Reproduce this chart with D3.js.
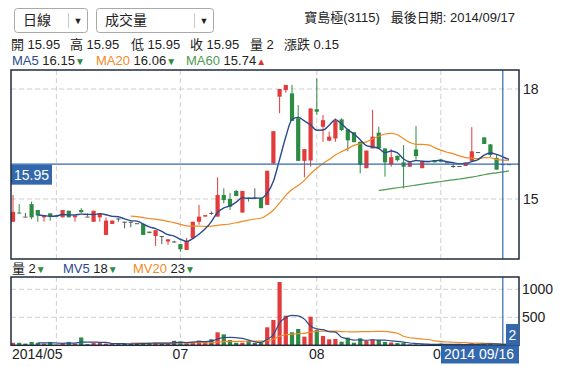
<!DOCTYPE html>
<html><head><meta charset="utf-8">
<script src="https://cdn.jsdelivr.net/npm/d3@7"></script>
<style>body{margin:0;background:#fff;}svg{display:block;font-family:"Liberation Sans","Noto Sans CJK TC",Arial,sans-serif;}</style>
</head><body><svg id="c" width="569" height="366"></svg>
<script>
const stockName = "寶島極(3115)";
const lastDate = "2014/09/17";
const year = "2014";
const dates = ["05/22","05/23","05/26","05/27","05/28","05/29","05/30",
"06/03","06/04","06/05","06/06","06/09","06/10","06/11","06/12","06/13","06/16","06/17","06/18","06/19","06/20","06/23","06/24","06/25","06/26","06/27","06/30",
"07/01","07/02","07/03","07/04","07/07","07/08","07/09","07/10","07/11","07/14","07/15","07/16","07/17","07/18","07/21","07/22","07/24","07/25","07/28","07/29","07/30","07/31",
"08/01","08/04","08/05","08/06","08/07","08/08","08/11","08/12","08/13","08/14","08/15","08/18","08/19","08/20","08/21","08/22","08/25","08/26","08/27","08/28",
"09/01","09/02","09/03","09/04","09/05","09/09","09/10","09/11","09/12","09/15","09/16","09/17"];
const opens = [14.38,14.63,14.52,14.86,14.70,14.50,14.61,14.55,14.50,14.68,14.50,14.70,14.52,14.38,14.50,14.02,14.32,14.47,14.38,14.38,14.34,14.32,14.11,13.99,13.99,13.84,13.84,13.77,13.61,13.93,14.38,14.52,14.62,14.52,15.11,15.00,15.22,14.63,15.04,15.03,15.02,14.84,15.97,17.79,17.97,17.88,17.20,16.04,16.05,17.45,16.97,16.59,16.65,17.17,16.90,16.82,16.56,15.84,16.38,16.81,16.38,15.95,16.18,16.00,15.88,16.35,15.84,16.03,16.06,16.08,16.00,15.90,15.90,15.90,16.04,16.28,16.68,16.49,16.12,15.95,15.95];
const highs = [15.11,14.86,14.62,14.93,14.70,14.56,14.61,14.55,14.70,14.68,14.55,14.75,14.61,14.68,14.61,14.49,14.41,14.47,14.38,14.38,14.34,14.32,14.11,14.15,13.99,13.90,13.86,13.77,13.94,14.38,14.84,14.56,14.66,15.59,15.29,15.16,15.25,15.22,15.04,15.29,15.02,15.77,16.85,18.00,18.11,18.11,17.56,16.36,17.47,18.29,17.29,16.84,17.20,17.20,16.90,16.82,16.56,16.32,17.43,16.97,16.38,16.36,16.18,16.47,16.00,16.99,16.04,16.03,16.06,16.08,16.00,15.95,15.90,16.00,16.96,16.28,16.68,16.50,16.20,15.95,15.95];
const lows = [14.38,14.61,14.52,14.45,14.38,14.38,14.41,14.55,14.50,14.50,14.38,14.61,14.52,14.38,14.38,14.02,14.32,14.38,14.20,14.23,14.34,14.02,14.07,13.72,13.77,13.75,13.82,13.56,13.61,13.93,14.30,14.52,14.57,14.52,14.88,14.70,15.08,14.63,14.93,15.03,14.75,14.84,15.95,17.34,17.90,17.13,16.04,15.59,15.88,17.30,16.56,16.59,16.56,16.85,16.30,16.55,15.70,15.84,16.38,16.38,15.61,15.88,16.02,15.29,15.88,16.08,15.84,16.02,16.00,16.02,16.00,15.85,15.90,15.90,16.04,16.28,16.50,16.14,15.80,15.95,15.95];
const closes = [14.65,14.61,14.52,14.50,14.55,14.56,14.52,14.55,14.70,14.50,14.55,14.64,14.52,14.68,14.61,14.41,14.41,14.47,14.38,14.38,14.34,14.02,14.07,14.15,13.99,13.90,13.84,13.63,13.84,14.38,14.52,14.56,14.62,15.11,14.97,14.79,15.08,15.22,15.02,15.03,14.75,15.77,16.85,18.00,18.11,17.13,16.04,16.36,17.47,17.38,17.15,16.70,17.13,16.88,16.60,16.55,15.93,16.32,16.70,16.38,16.00,16.14,16.06,15.88,16.00,16.17,16.04,16.02,16.00,16.02,16.00,15.90,15.90,16.00,16.30,16.28,16.50,16.20,15.80,15.95,15.95];
const volumes = [45,45,30,60,45,30,60,10,40,60,30,140,20,40,40,30,30,20,25,25,40,45,40,45,30,30,80,70,40,60,85,77,107,232,196,95,46,46,82,40,46,321,452,1130,529,232,291,154,511,273,166,107,113,64,136,46,125,82,107,95,60,50,40,40,15,15,15,15,15,30,10,10,10,10,40,20,30,25,13,2,3];
const priceTicks = [15, 18];
const volTicks = [500, 1000];
const cursorIndex = 79;

const RED = "#e23b3b", GREEN = "#2e8b43", NEUT = "#555";
const C_MA5 = "#294b8c", C_MA20 = "#f08a24", C_MA60 = "#4f9a50", BLUE = "#3468ae";

function ma(arr, n){ return arr.map((d,i)=> i < n-1 ? null : d3.mean(arr.slice(i-n+1, i+1))); }
const ma5 = ma(closes,5), ma20 = ma(closes,20), ma60 = ma(closes,60);
const mv5 = ma(volumes,5), mv20 = ma(volumes,20);

const svg = d3.select("#c");
const L = 11, R = 519, mTop = 70, mBot = 259, vTop = 277, vBot = 345.3;
const idx = d3.range(dates.length);
const x = d3.scalePoint().domain(idx).range([13, 509]);
const y = d3.scaleLinear().domain(priceTicks).range([199, 89]);
const yv = d3.scaleLinear().domain([0, 1000]).range([vBot, 289.3]);
const bw = 4.2;
const colorOf = i => closes[i] > opens[i] ? RED : (closes[i] < opens[i] ? GREEN : NEUT);

// header controls
function dropdown(x0, w, sep, label){
  const g = svg.append("g");
  g.append("rect").attr("x",x0+0.5).attr("y",8.5).attr("width",w).attr("height",24).attr("rx",3)
    .attr("fill","#fff").attr("stroke","#a9a9a9");
  g.append("line").attr("x1",x0+sep+0.5).attr("x2",x0+sep+0.5).attr("y1",13).attr("y2",28).attr("stroke","#c8c8c8");
  g.append("text").attr("x",x0+9).attr("y",25).attr("font-size",14).attr("fill","#222").text(label);
  g.append("text").attr("x",x0+sep+10).attr("y",24).attr("font-size",9).attr("text-anchor","middle").attr("fill","#222").text("▼");
}
dropdown(14, 73, 54, "日線");
dropdown(96, 117, 98, "成交量");
svg.append("text").attr("x",515).attr("y",22).attr("text-anchor","end").attr("font-size",13).attr("fill","#222")
  .text(stockName + "\u00a0\u00a0 最後日期: " + lastDate);

const ci = cursorIndex;
const chg = closes[ci] - closes[ci-1];
const info = [["開 ", opens[ci].toFixed(2), 11],["高 ", highs[ci].toFixed(2), 70],["低 ", lows[ci].toFixed(2), 131],
  ["收 ", closes[ci].toFixed(2), 190],["量 ", String(volumes[ci]), 250],["漲跌 ", chg.toFixed(2), 284]];
info.forEach(d=>{
  svg.append("text").attr("x",d[2]).attr("y",49).attr("font-size",13).attr("fill","#222").text(d[0]+d[1]);
});
function legendItem(xp, yp, label, col, val, up){
  const t = svg.append("text").attr("x",xp).attr("y",yp).attr("font-size",13);
  t.append("tspan").attr("fill",col).text(label+" ");
  t.append("tspan").attr("fill","#222").text(val);
  t.append("tspan").attr("fill", up ? "#e0302e" : GREEN).attr("font-size",10).text(up ? "▲" : "▼");
}
const trend = (a)=> a[ci] >= a[ci-1];
legendItem(12, 65, "MA5", C_MA5, ma5[ci].toFixed(2), trend(ma5));
legendItem(96, 65, "MA20", C_MA20, ma20[ci].toFixed(2), trend(ma20));
legendItem(186, 65, "MA60", C_MA60, ma60[ci].toFixed(2), trend(ma60));

// month boundaries
const monthStarts = idx.filter(i => i > 0 && dates[i].slice(0,2) !== dates[i-1].slice(0,2));

// panels grid
function grid(top, bot, yscale, ticks){
  ticks.forEach(t=>{
    svg.append("line").attr("x1",L).attr("x2",R).attr("y1",yscale(t)).attr("y2",yscale(t))
      .attr("stroke","#cfcfcf").attr("stroke-dasharray","5,3");
  });
  monthStarts.forEach(i=>{
    svg.append("line").attr("x1",x(i)).attr("x2",x(i)).attr("y1",top).attr("y2",bot)
      .attr("stroke","#cfcfcf").attr("stroke-dasharray","5,3");
  });
}
grid(mTop, mBot, y, priceTicks);
grid(vTop, vBot, yv, volTicks);

// candles
const cg = svg.append("g");
idx.forEach(i=>{
  const col = colorOf(i);
  cg.append("line").attr("x1",x(i)).attr("x2",x(i)).attr("y1",y(highs[i])).attr("y2",y(lows[i])).attr("stroke",col).attr("stroke-width",1);
  const t = y(Math.max(opens[i],closes[i])), b = y(Math.min(opens[i],closes[i]));
  cg.append("rect").attr("x",x(i)-bw/2).attr("y",t).attr("width",bw).attr("height",Math.max(1,b-t)).attr("fill",col);
});
// MA lines
function maLine(arr, col, w, ys){
  const ln = d3.line().defined(i=>arr[i]!==null).x(i=>x(i)).y(i=>ys(arr[i])).curve(d3.curveMonotoneX);
  svg.append("path").attr("d",ln(idx)).attr("fill","none").attr("stroke",col).attr("stroke-width",w);
}
maLine(ma20, C_MA20, 1.2, y);
maLine(ma60, C_MA60, 1.2, y);
maLine(ma5, C_MA5, 1.4, y);

// current price line & label
svg.append("line").attr("x1",L).attr("x2",R).attr("y1",y(closes[ci])).attr("y2",y(closes[ci])).attr("stroke",BLUE).attr("stroke-width",1.2);
svg.append("rect").attr("x",L).attr("y",y(closes[ci])+0.5).attr("width",41).attr("height",20).attr("fill",BLUE);
svg.append("text").attr("x",L+3).attr("y",y(closes[ci])+16).attr("font-size",14).attr("fill","#fff").text(closes[ci].toFixed(2));

// volume bars
idx.forEach(i=>{
  svg.append("rect").attr("x",x(i)-bw/2).attr("y",yv(volumes[i])).attr("width",bw).attr("height",Math.max(0,vBot-yv(volumes[i]))).attr("fill",colorOf(i));
});
maLine(mv20, C_MA20, 1.2, yv);
maLine(mv5, C_MA5, 1.2, yv);

// cursor
[[mTop,mBot],[vTop,vBot]].forEach(p=>{
  svg.append("line").attr("x1",x(ci)).attr("x2",x(ci)).attr("y1",p[0]).attr("y2",p[1]).attr("stroke",BLUE).attr("stroke-width",1.2);
});

// borders
[[mTop,mBot],[vTop,vBot]].forEach(p=>{
  svg.append("rect").attr("x",L).attr("y",p[0]).attr("width",R-L).attr("height",p[1]-p[0]).attr("fill","none").attr("stroke","#1f2d3d").attr("stroke-width",1.5);
});

// y labels
priceTicks.forEach(t=> svg.append("text").attr("x",523).attr("y",y(t)+5).attr("font-size",14).attr("fill","#222").text(t));
volTicks.forEach(t=> svg.append("text").attr("x",522).attr("y",yv(t)+5).attr("font-size",14).attr("fill","#222").text(t));

// volume legend
const vt = svg.append("text").attr("x",12).attr("y",273).attr("font-size",13);
vt.append("tspan").attr("fill","#222").text("量 " + volumes[ci]);
vt.append("tspan").attr("fill",GREEN).attr("font-size",10).text(volumes[ci]>=volumes[ci-1]?"▲":"▼");
legendItem(63, 273, "MV5", C_MA5, Math.round(mv5[ci]), trend(mv5));
legendItem(133, 273, "MV20", C_MA20, Math.round(mv20[ci]), trend(mv20));

// x labels (the cursor date box hides the part right of it)
const boxX = 441;
svg.append("defs").append("clipPath").attr("id","xclip").append("rect").attr("x",0).attr("y",340).attr("width",boxX).attr("height",26);
const xl = svg.append("g").attr("clip-path","url(#xclip)");
xl.append("text").attr("x",12).attr("y",359).attr("font-size",14).attr("fill","#222").text(year + "/" + dates[0].slice(0,2));
monthStarts.forEach(i=>{
  if (x(i) - 12 < 60) return;
  xl.append("text").attr("x",x(i)).attr("y",359).attr("text-anchor","middle").attr("font-size",14).attr("fill","#222").text(dates[i].slice(0,2));
});
// cursor date box
svg.append("rect").attr("x",boxX).attr("y",345.5).attr("width",R-boxX).attr("height",18).attr("fill",BLUE);
svg.append("text").attr("x",444).attr("y",359).attr("font-size",14).attr("fill","#fff").text(year + " " + dates[ci]);
// cursor volume box
svg.append("rect").attr("x",506).attr("y",324).attr("width",R-506).attr("height",vBot-324).attr("fill",BLUE);
svg.append("text").attr("x",512.5).attr("y",340).attr("text-anchor","middle").attr("font-size",14).attr("fill","#fff").text(volumes[ci]);
</script></body></html>
